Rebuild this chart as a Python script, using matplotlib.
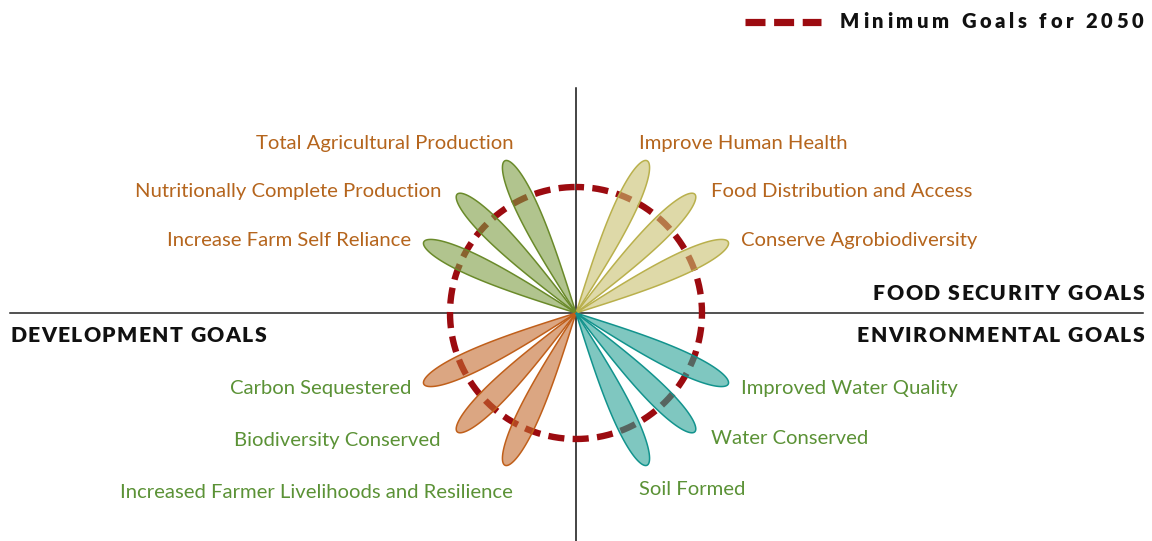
import numpy as np
import matplotlib
matplotlib.use("Agg")
import matplotlib.pyplot as plt
from matplotlib.font_manager import FontProperties, findfont, get_font
from matplotlib.patches import Polygon
from matplotlib.lines import Line2D

# ---------------------------------------------------------------- data
food_goals = ["Improve Human Health", "Food Distribution and Access",
              "Conserve Agrobiodiversity"]
food_scores = [1.0, 1.0, 1.0]

production_goals = ["Total Agricultural Production",
                    "Nutritionally Complete Production",
                    "Increase Farm Self Reliance"]
production_scores = [1.0, 1.0, 1.0]

development_goals = ["Carbon Sequestered", "Biodiversity Conserved",
                     "Increased Farmer Livelihoods and Resilience"]
development_scores = [1.0, 1.0, 1.0]

environment_goals = ["Improved Water Quality", "Water Conserved", "Soil Formed"]
environment_scores = [1.0, 1.0, 1.0]

minimum_goal_2050 = 0.75

# ---------------------------------------------------------------- layout
W, H, DPI = 1152, 541, 100
CX, CY = 576, 313          # centre of the rose, figure pixels from top-left
UNIT = 168                 # pixels per score unit
PETAL_WIDTH = 22 / UNIT
FONT = "Lato"

plt.rcParams["lines.scale_dashes"] = False

groups = [
    dict(names=food_goals, scores=food_scores, angles=[65, 45, 25],
         face="#c8c16e", edge="#b9b04c", ha="left", color="#b5651d",
         anchors=[(639, 149), (711, 197), (741, 246)]),
    dict(names=production_goals, scores=production_scores, angles=[115, 135, 155],
         face="#7d9d43", edge="#6a8a2a", ha="right", color="#b5651d",
         anchors=[(513, 149), (441, 197), (411, 246)]),
    dict(names=development_goals, scores=development_scores, angles=[205, 225, 245],
         face="#c36b2f", edge="#c05f1a", ha="right", color="#5b9236",
         anchors=[(411, 394), (441, 446), (513, 498)]),
    dict(names=environment_goals, scores=environment_scores, angles=[335, 315, 295],
         face="#2aa396", edge="#12938d", ha="left", color="#5b9236",
         anchors=[(741, 394), (711, 444), (639, 495)]),
]

fig = plt.figure(figsize=(W / DPI, H / DPI), dpi=DPI)
ax = fig.add_axes([0, 0, 1, 1])
ax.set_xlim(-CX / UNIT, (W - CX) / UNIT)
ax.set_ylim(-(H - CY) / UNIT, CY / UNIT)
ax.axis("off")


def fx(x):
    return x / W


def fy(y):
    return 1 - y / H


# quadrant divider lines
ax.add_line(Line2D([(10 - CX) / UNIT, (1143 - CX) / UNIT], [0, 0],
                   color="#222222", lw=1.1, zorder=1))
ax.add_line(Line2D([0, 0], [(CY - 88) / UNIT, -(H - CY) / UNIT],
                   color="#111111", lw=1.1, zorder=1))

# dashed minimum-goal circle, starting at the top and running clockwise
dash, gap = 11.6, 6.0
theta = np.linspace(np.pi / 2, np.pi / 2 - 2 * np.pi, 720)
ax.plot(minimum_goal_2050 * np.cos(theta), minimum_goal_2050 * np.sin(theta),
        color="#9c0b10", lw=4.6, solid_capstyle="butt", dash_capstyle="butt",
        linestyle=(dash / 2, (dash, gap)), zorder=2)


def petal(angle_deg, length, width):
    phi = np.linspace(0, np.pi / 2, 200)
    t = np.sin(phi)
    r = t * length
    h = width * t * np.cos(phi)
    xs = np.concatenate([r, r[::-1]])
    ys = np.concatenate([h, -h[::-1]])
    a = np.deg2rad(angle_deg)
    return np.column_stack([xs * np.cos(a) - ys * np.sin(a),
                            xs * np.sin(a) + ys * np.cos(a)])


label_prop = dict(family=[FONT, "DejaVu Sans"], fontsize=14.6)

for g in groups:
    for name, score, ang, (lx, ly) in zip(g["names"], g["scores"], g["angles"], g["anchors"]):
        ax.add_patch(Polygon(petal(ang, score, PETAL_WIDTH), closed=True,
                             facecolor=matplotlib.colors.to_rgba(g["face"], 0.6),
                             edgecolor=g["edge"], lw=1.1, zorder=3))
        fig.text(fx(lx), fy(ly), name, ha=g["ha"], va="baseline",
                 color=g["color"], **label_prop)


def spaced_text(x0, x1, y, s, size, color="#111111"):
    """Letter-spaced bold text filling the span x0..x1 (pixels)."""
    prop = FontProperties(family=FONT, weight="heavy", size=size)
    font = get_font(findfont(prop))
    font.set_size(size, DPI)
    adv = [font.load_char(ord(c)).linearHoriAdvance / 65536 for c in s]
    spacing = (x1 - x0 - sum(adv)) / (len(s) - 1)
    x = x0
    for c, a in zip(s, adv):
        fig.text(fx(x), fy(y), c, ha="left", va="baseline", color=color,
                 fontproperties=prop)
        x += a + spacing


spaced_text(10, 266, 342, "DEVELOPMENT GOALS", 15.2)
spaced_text(873, 1144, 300, "FOOD SECURITY GOALS", 15.2)
spaced_text(857, 1144, 342, "ENVIRONMENTAL GOALS", 15.2)
spaced_text(840, 1143, 28, "Minimum Goals for 2050", 14.5)

# legend key
fig.add_artist(Line2D([fx(745), fx(821)], [fy(21.5), fy(21.5)], color="#9c0b10",
                      lw=5.2, linestyle=(0, (14.4, 6.2)), dash_capstyle="butt"))

fig.savefig("out.png", dpi=DPI)
